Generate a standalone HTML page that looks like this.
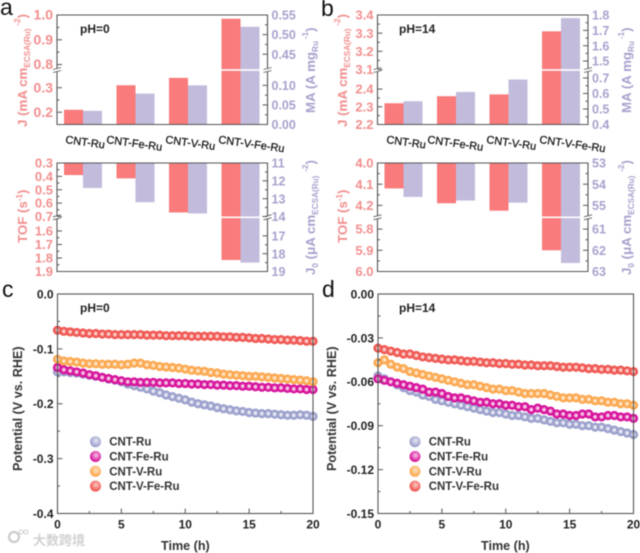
<!DOCTYPE html>
<html lang="en">
<head>
<meta charset="utf-8">
<title>Electrocatalyst comparison chart</title>
<style>
html,body{margin:0;padding:0;background:#fff;width:640px;height:553px;overflow:hidden}
svg{display:block;font-family:"Liberation Sans","Noto Sans CJK SC",sans-serif;filter:blur(.4px)}
.rt{fill:#f28e8e;font-weight:bold;font-size:13.3px}
.pt{fill:#a9a1cd;font-weight:bold;font-size:13.3px}
.bt{fill:#333;font-weight:bold;font-size:12.6px}
.ph{fill:#222;font-weight:bold;font-size:12px}
.pl{fill:#111;font-size:23px}
</style>
</head>
<body>
<svg id="fig" xmlns="http://www.w3.org/2000/svg" width="640" height="553" viewBox="0 0 640 553">
<defs>
<radialGradient id="m0"><stop offset="0" stop-color="#fff"/><stop offset=".22" stop-color="#e6e7f3"/><stop offset=".62" stop-color="#9a9fcb"/></radialGradient>
<radialGradient id="m1"><stop offset="0" stop-color="#fff"/><stop offset=".22" stop-color="#f7c4e6"/><stop offset=".62" stop-color="#d6109a"/></radialGradient>
<radialGradient id="m2"><stop offset="0" stop-color="#fff"/><stop offset=".22" stop-color="#fde2c0"/><stop offset=".62" stop-color="#fca74e"/></radialGradient>
<radialGradient id="m3"><stop offset="0" stop-color="#fff"/><stop offset=".22" stop-color="#fbc9c6"/><stop offset=".62" stop-color="#ef5550"/></radialGradient>
<radialGradient id="l0" cx=".55" cy=".4" r=".6"><stop offset="0" stop-color="#e6e7f3"/><stop offset=".9" stop-color="#9a9fcb"/></radialGradient>
<radialGradient id="l1" cx=".55" cy=".4" r=".6"><stop offset="0" stop-color="#f7c4e6"/><stop offset=".9" stop-color="#d6109a"/></radialGradient>
<radialGradient id="l2" cx=".55" cy=".4" r=".6"><stop offset="0" stop-color="#fde2c0"/><stop offset=".9" stop-color="#fca74e"/></radialGradient>
<radialGradient id="l3" cx=".55" cy=".4" r=".6"><stop offset="0" stop-color="#fbc9c6"/><stop offset=".9" stop-color="#ef5550"/></radialGradient>
</defs>
<g id="root"></g>

<text class="pl" x="0" y="15">a</text>
<text class="pl" x="321" y="16">b</text>
<text class="pl" x="2" y="297">c</text>
<text class="pl" x="322" y="297">d</text>

<text class="ph" x="80" y="33">pH=0</text>
<text class="ph" x="399" y="33">pH=14</text>
<text class="ph" x="80" y="312">pH=0</text>
<text class="ph" x="399" y="312">pH=14</text>

<text class="rt" transform="translate(27,127) rotate(-90)">J (mA cm<tspan font-size="8.2" dy="3">ECSA(Ru)</tspan><tspan font-size="8" dx="3" dy="-10">-2</tspan><tspan dy="7">)</tspan></text>
<text class="pt" transform="translate(315,113) rotate(-90)">MA (A mg<tspan font-size="8.2" dy="3">Ru</tspan><tspan font-size="8" dx="2" dy="-10">-1</tspan><tspan dy="7">)</tspan></text>
<text class="rt" transform="translate(27,243) rotate(-90)">TOF (s<tspan font-size="8" dy="-5">-1</tspan><tspan dy="5">)</tspan></text>
<text class="pt" transform="translate(315,275) rotate(-90)">J<tspan font-size="8.2" dy="3">0</tspan><tspan dy="-3"> (μA cm</tspan><tspan font-size="8.2" dy="3">ECSA(Ru)</tspan><tspan font-size="8" dx="4" dy="-10">-2</tspan><tspan dy="7">)</tspan></text>

<text class="rt" transform="translate(347,127) rotate(-90)">J (mA cm<tspan font-size="8.2" dy="3">ECSA(Ru)</tspan><tspan font-size="8" dx="3" dy="-10">-2</tspan><tspan dy="7">)</tspan></text>
<text class="pt" transform="translate(631,113) rotate(-90)">MA (A mg<tspan font-size="8.2" dy="3">Ru</tspan><tspan font-size="8" dx="2" dy="-10">-1</tspan><tspan dy="7">)</tspan></text>
<text class="rt" transform="translate(347,243) rotate(-90)">TOF (s<tspan font-size="8" dy="-5">-1</tspan><tspan dy="5">)</tspan></text>
<text class="pt" transform="translate(631,275) rotate(-90)">J<tspan font-size="8.2" dy="3">0</tspan><tspan dy="-3"> (μA cm</tspan><tspan font-size="8.2" dy="3">ECSA(Ru)</tspan><tspan font-size="8" dx="4" dy="-10">-2</tspan><tspan dy="7">)</tspan></text>

<text class="bt" transform="translate(22,471) rotate(-90)">Potential  (V vs. RHE)</text>
<text class="bt" transform="translate(336,471) rotate(-90)">Potential  (V vs. RHE)</text>
<text class="bt" x="161" y="550">Time (h)</text>
<text class="bt" x="481" y="550">Time (h)</text>

<g opacity=".85">
<circle cx="14" cy="537" r="5" fill="none" stroke="#c4c4c4" stroke-width="2.2"/>
<circle cx="21" cy="532" r="2" fill="none" stroke="#c4c4c4"/>
<circle cx="26" cy="532" r="2" fill="none" stroke="#c4c4c4"/>
<text x="33" y="545" font-size="13" font-weight="bold" fill="#c9c9c9">大数跨境</text>
</g>
</svg>
<script>
const categories = ['CNT-Ru', 'CNT-Fe-Ru', 'CNT-V-Ru', 'CNT-V-Fe-Ru'];

const aJ = [0.21, 0.31, 0.34, 0.985];
const aMA = [0.035, 0.079, 0.10, 0.52];
const aTOF = [0.39, 0.415, 0.67, 1.815];
const aJ0 = [12.4, 13.2, 13.83, 18.5];
const bJ = [2.32, 2.36, 2.37, 3.31];
const bMA = [0.55, 0.61, 0.69, 1.78];
const bTOF = [4.12, 4.19, 4.225, 5.9];
const bJ0 = [54.6, 54.77, 54.87, 62.6];

const aJTicks = ['0.2', '0.3', '0.8', '0.9', '1.0'];
const aMATicks = ['0.00', '0.05', '0.10', '0.45', '0.50', '0.55'];
const aTOFTicks = ['0.3', '0.4', '0.5', '0.6', '0.7', '1.6', '1.7', '1.8', '1.9'];
const aJ0Ticks = ['11', '12', '13', '14', '17', '18', '19'];
const bJTicks = ['2.2', '2.3', '2.4', '3.1', '3.2', '3.3', '3.4'];
const bMATicks = ['0.4', '0.5', '0.6', '0.7', '1.5', '1.6', '1.7', '1.8'];
const bTOFTicks = ['4.0', '4.1', '4.2', '5.8', '5.9', '6.0'];
const bJ0Ticks = ['53', '54', '55', '61', '62', '63'];

const seriesNames = ['CNT-Ru', 'CNT-Fe-Ru', 'CNT-V-Ru', 'CNT-V-Fe-Ru'];
const times = [0,0.5,1,1.5,2,2.5,3,3.5,4,4.5,5,5.5,6,6.5,7,7.5,8,8.5,9,9.5,10,10.5,11,11.5,12,12.5,13,13.5,14,14.5,15,15.5,16,16.5,17,17.5,18,18.5,19,19.5,20];

const cRu = [-.142,-.142,-.143,-.144,-.146,-.148,-.150,-.152,-.155,-.157,-.160,-.164,-.167,-.170,-.173,-.177,-.180,-.184,-.187,-.190,-.193,-.197,-.200,-.202,-.204,-.207,-.209,-.211,-.213,-.214,-.216,-.217,-.218,-.218,-.219,-.220,-.221,-.221,-.220,-.221,-.223];
const cFeRu = [-.134,-.138,-.140,-.142,-.144,-.147,-.149,-.152,-.154,-.156,-.158,-.160,-.160,-.161,-.161,-.161,-.162,-.162,-.162,-.163,-.163,-.164,-.164,-.165,-.165,-.166,-.166,-.167,-.167,-.168,-.168,-.169,-.170,-.170,-.171,-.171,-.172,-.173,-.173,-.174,-.174];
const cVRu = [-.119,-.122,-.123,-.124,-.126,-.127,-.127,-.128,-.128,-.128,-.129,-.128,-.126,-.126,-.129,-.130,-.132,-.133,-.134,-.135,-.137,-.139,-.140,-.141,-.143,-.144,-.146,-.147,-.148,-.149,-.150,-.150,-.151,-.152,-.153,-.154,-.155,-.156,-.157,-.158,-.160];
const cVFeRu = [-.066,-.068,-.069,-.070,-.071,-.072,-.072,-.073,-.073,-.074,-.074,-.074,-.074,-.074,-.075,-.075,-.075,-.076,-.076,-.076,-.076,-.077,-.077,-.077,-.077,-.077,-.078,-.078,-.079,-.079,-.080,-.081,-.081,-.082,-.083,-.083,-.084,-.084,-.085,-.086,-.086];

const dRu = [-.056,-.058,-.060,-.062,-.064,-.066,-.067,-.069,-.070,-.072,-.073,-.074,-.075,-.076,-.077,-.078,-.079,-.080,-.081,-.081,-.082,-.083,-.083,-.084,-.085,-.085,-.086,-.087,-.088,-.088,-.089,-.089,-.090,-.090,-.091,-.091,-.092,-.093,-.094,-.095,-.096];
const dFeRu = [-.058,-.059,-.060,-.061,-.062,-.063,-.064,-.065,-.067,-.067,-.068,-.070,-.071,-.071,-.072,-.073,-.074,-.074,-.075,-.075,-.076,-.076,-.077,-.077,-.079,-.078,-.079,-.080,-.082,-.082,-.083,-.083,-.082,-.082,-.084,-.084,-.083,-.083,-.084,-.084,-.085];
const dVRu = [-.047,-.045,-.048,-.050,-.051,-.053,-.054,-.055,-.056,-.057,-.058,-.059,-.060,-.061,-.062,-.062,-.063,-.064,-.065,-.065,-.066,-.066,-.067,-.068,-.068,-.068,-.068,-.069,-.070,-.071,-.071,-.071,-.072,-.072,-.073,-.073,-.074,-.074,-.075,-.075,-.076];
const dVFeRu = [-.037,-.038,-.039,-.040,-.041,-.041,-.042,-.043,-.0435,-.044,-.0445,-.045,-.045,-.0455,-.046,-.046,-.0465,-.047,-.047,-.0475,-.0475,-.048,-.048,-.0485,-.0485,-.049,-.049,-.049,-.0495,-.050,-.050,-.050,-.0505,-.051,-.051,-.0515,-.0515,-.052,-.052,-.0525,-.053];

const cTicks = ['0.0', '-0.1', '-0.2', '-0.3', '-0.4'];
const dTicks = ['0.00', '-0.03', '-0.06', '-0.09', '-0.12', '-0.15'];
const xTicks = ['0', '5', '10', '15', '20'];

const NS = 'http://www.w3.org/2000/svg';
const root = document.getElementById('root');
const RED = '#f97b7b', PUR = '#c3bbdc', RTXT = '#f28e8e', PTXT = '#a9a1cd', AXIS = '#555';

function mk(tag, attrs, parent) {
  const e = document.createElementNS(NS, tag);
  for (const k in attrs) e.setAttribute(k, attrs[k]);
  (parent || root).appendChild(e);
  return e;
}
function brokenScale(segs) {
  return function (v) {
    for (const s of segs) {
      if (v >= s.d[0] && v <= s.d[1]) return s.p[0] + (v - s.d[0]) / (s.d[1] - s.d[0]) * (s.p[1] - s.p[0]);
    }
    let best = segs[0], bd = Infinity;
    for (const s of segs) {
      const dd = Math.min(Math.abs(v - s.d[0]), Math.abs(v - s.d[1]));
      if (dd < bd) { bd = dd; best = s; }
    }
    return best.p[0] + (v - best.d[0]) / (best.d[1] - best.d[0]) * (best.p[1] - best.p[0]);
  };
}
function segOf(segs, v) {
  return segs.findIndex(s => v >= s.d[0] - 1e-9 && v <= s.d[1] + 1e-9);
}
function drawAxis(x, dir, ticks, segs, scale, color, group, fs) {
  const vals = ticks.map(Number);
  vals.forEach(function (v, i) {
    const y = scale(v);
    const t = mk('line', {x1: x, x2: x + dir * 5, y1: y, y2: y, stroke: AXIS, 'stroke-width': 1}, group);
    
    
    const l = mk('text', {x: x - dir * 4, y: y + 4.6, 'text-anchor': dir > 0 ? 'end' : 'start', fill: color, 'font-weight': 'bold', 'font-size': fs}, group);
    l.textContent = ticks[i];
    
    
    if (i < vals.length - 1 && segOf(segs, v) === segOf(segs, vals[i + 1])) {
      const my = scale((v + vals[i + 1]) / 2);
      const m = mk('line', {x1: x, x2: x + dir * 2.5, y1: my, y2: my, stroke: AXIS, 'stroke-width': 1}, group);
      
      
    }
  });
}
function barPanel(o) {
  const g = mk('g', {});
  
  
  const W = 210.5, x0 = o.x, y0 = o.top, y1 = o.bottom, brk = o.brk;
  const sl = brokenScale(o.lseg), sr = brokenScale(o.rseg);
  const base = o.down ? y0 : y1;
  categories.forEach(function (c, i) {
    const cx = x0 + 26 + i * 52.5;
    const yr = sl(o.left[i]), yp = sr(o.right[i]);
    const r = mk('rect', {x: cx - 19, y: Math.min(base, yr), width: 19, height: Math.abs(base - yr), fill: RED}, g);
    
    
    const p = mk('rect', {x: cx, y: Math.min(base, yp), width: 19, height: Math.abs(base - yp), fill: PUR}, g);
    
    
  });
  const gap = mk('rect', {x: x0 + 1, y: brk - 0.8, width: W - 2, height: 1.6, fill: '#fff'}, g);
  
  
  const fr = mk('path', {d: `M${x0} ${brk - 1.5}V${y0}H${x0 + W}V${brk - 1.5}M${x0} ${brk + 1.5}V${y1}H${x0 + W}V${brk + 1.5}`, fill: 'none', stroke: AXIS, 'stroke-width': 1.1}, g);
  
  
  [x0, x0 + W].forEach(function (bx) {
    [-1.5, 1.5].forEach(function (off) {
      const b = mk('line', {x1: bx - 4, x2: bx + 4, y1: brk + off + 1, y2: brk + off - 1, stroke: AXIS, 'stroke-width': .8}, g);
      
      
    });
  });
  drawAxis(x0, 1, o.lticks, o.lseg, sl, RTXT, g, o.lfs || 13);
  drawAxis(x0 + W, -1, o.rticks, o.rseg, sr, PTXT, g, o.rfs || 12.5);
}
function catLabels(x0, y) {
  categories.forEach(function (c, i) {
    const lx = x0 + [8, 49, 108, 161][i];
    const t = mk('text', {x: lx, y: y, 'font-size': 11, fill: '#111', stroke: '#111', 'stroke-width': .25, transform: `rotate(8 ${lx} ${y})`});
    t.textContent = c;
    
    
  });
}
function linePanel(o) {
  const g = mk('g', {});
  
  
  const W = 255.5, H = 219.5, x0 = o.x, y0 = 294;
  const X = t => x0 + t / 20 * W;
  const Y = v => y0 + (0 - v) / (0 - o.ymin) * H;
  o.series.forEach(function (s, si) {
    s.forEach(function (v, i) {
      const c = mk('circle', {cx: X(times[i]), cy: Y(v), r: 4.6, fill: `url(#m${si})`}, g);
      
      
    });
  });
  const fr = mk('rect', {x: x0, y: y0, width: W, height: H, fill: 'none', stroke: AXIS, 'stroke-width': 1.1}, g);
  
  
  const yvals = o.yticks.map(Number);
  yvals.forEach(function (v, i) {
    const yy = Y(v);
    const t = mk('line', {x1: x0, x2: x0 + 5, y1: yy, y2: yy, stroke: AXIS, 'stroke-width': 1}, g);
    
    
    const l = mk('text', {x: x0 - 4, y: yy + 4.4, 'text-anchor': 'end', 'font-size': 12, 'font-weight': 'bold', fill: '#222'}, g);
    l.textContent = o.yticks[i];
    
    
    if (i < yvals.length - 1) {
      const my = Y((v + yvals[i + 1]) / 2);
      const m = mk('line', {x1: x0, x2: x0 + 2.5, y1: my, y2: my, stroke: AXIS, 'stroke-width': 1}, g);
      
      
    }
  });
  const xvals = xTicks.map(Number);
  xvals.forEach(function (v, i) {
    const xx = X(v);
    const t = mk('line', {x1: xx, x2: xx, y1: y0 + H, y2: y0 + H - 5, stroke: AXIS, 'stroke-width': 1}, g);
    
    
    const l = mk('text', {x: xx, y: y0 + H + 15, 'text-anchor': 'middle', 'font-size': 12, 'font-weight': 'bold', fill: '#222'}, g);
    l.textContent = xTicks[i];
    
    
    if (i < xvals.length - 1) {
      const mx = X((v + xvals[i + 1]) / 2);
      const m = mk('line', {x1: mx, x2: mx, y1: y0 + H, y2: y0 + H - 2.5, stroke: AXIS, 'stroke-width': 1}, g);
      
      
    }
  });
  seriesNames.forEach(function (n, i) {
    const ly = 441.7 + i * 14.8;
    const c = mk('circle', {cx: o.lx, cy: ly, r: 5.5, fill: `url(#l${i})`}, g);
    
    
    const t = mk('text', {x: o.lx + 13.7, y: ly + 4, 'font-size': 11.5, 'font-weight': 'bold', fill: '#333'}, g);
    t.textContent = n;
    
    
  });
}

barPanel({name: 'panel-a-top', x: 57, top: 15, bottom: 124.5, brk: 70, left: aJ, right: aMA, lticks: aJTicks, rticks: aMATicks,
  lseg: [{d: [.15, .37], p: [124.5, 70.5]}, {d: [.78, 1.0], p: [69.5, 15]}],
  rseg: [{d: [0, .138], p: [124.5, 70.5]}, {d: [.411, .55], p: [69.5, 15]}], lfs: 14});
barPanel({name: 'panel-a-bottom', x: 57, top: 163, bottom: 271.5, brk: 217.3, down: true, left: aTOF, right: aJ0, lticks: aTOFTicks, rticks: aJ0Ticks,
  lseg: [{d: [.3, .7], p: [163, 216.5]}, {d: [1.504, 1.9], p: [218, 271.5]}],
  rseg: [{d: [11, 14], p: [163, 216.5]}, {d: [16, 19], p: [218, 271.5]}]});
barPanel({name: 'panel-b-top', x: 377.5, top: 15, bottom: 124.5, brk: 70, left: bJ, right: bMA, lticks: bJTicks, rticks: bMATicks,
  lseg: [{d: [2.2, 2.505], p: [124.5, 70.5]}, {d: [3.1, 3.4], p: [69.5, 15]}],
  rseg: [{d: [.4, .748], p: [124.5, 70.5]}, {d: [1.445, 1.8], p: [69.5, 15]}]});
barPanel({name: 'panel-b-bottom', x: 377.5, top: 163, bottom: 271.5, brk: 217.3, down: true, left: bTOF, right: bJ0, lticks: bTOFTicks, rticks: bJ0Ticks,
  lseg: [{d: [4, 4.25], p: [163, 216]}, {d: [5.75, 6], p: [218.5, 271.5]}],
  rseg: [{d: [53, 55.5], p: [163, 216]}, {d: [60.5, 63], p: [218.5, 271.5]}]});
catLabels(57, 143);
catLabels(378, 143);
linePanel({name: 'panel-c', x: 57.5, ymin: -0.4, yticks: cTicks, series: [cRu, cFeRu, cVRu, cVFeRu], lx: 95.5});
linePanel({name: 'panel-d', x: 378, ymin: -0.15, yticks: dTicks, series: [dRu, dFeRu, dVRu, dVFeRu], lx: 415});
</script>
</body>
</html>
